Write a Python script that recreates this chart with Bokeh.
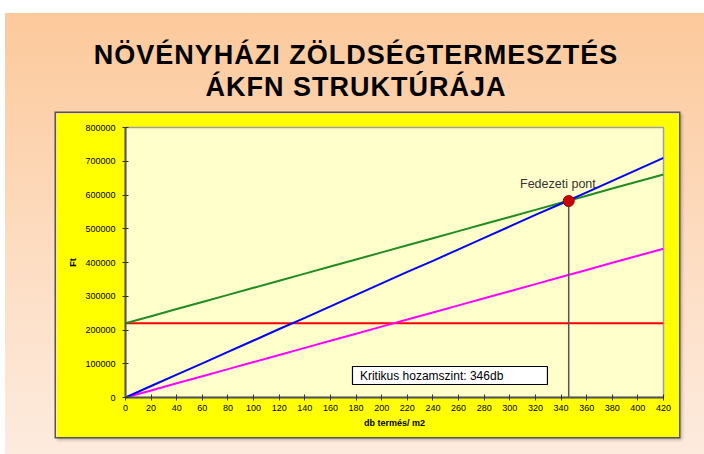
from bokeh.plotting import figure
from bokeh.layouts import column
from bokeh.models import BoxAnnotation, Label, FixedTicker, PrintfTickFormatter, Range1d, Div
from bokeh.embed import file_html
from bokeh.resources import INLINE

# ---- data ----
x_db = [0, 20, 40, 60, 80, 100, 120, 140, 160, 180, 200, 220, 240, 260, 280, 300, 320, 340, 360, 380, 400, 420]
bevetel = [0, 34000, 68000, 101000, 135000, 169000, 203000, 236000, 270000, 304000, 338000,
           372000, 405000, 439000, 473000, 507000, 541000, 574000, 608000, 642000, 676000, 710000]
osszkoltseg = [220000, 241000, 262000, 283000, 304000, 325000, 346000, 367000, 388000, 409000, 430000,
               451000, 472000, 493000, 514000, 535000, 556000, 577000, 598000, 619000, 640000, 661000]
valtozo_koltseg = [0, 21000, 42000, 63000, 84000, 105000, 126000, 147000, 168000, 189000, 210000,
                   231000, 252000, 273000, 294000, 315000, 336000, 357000, 378000, 399000, 420000, 441000]
fix_x = [0, 420]
fix_koltseg = [220000, 220000]
fedezeti_x = [346]
fedezeti_y = [582000]
x_ticks = [0, 20, 40, 60, 80, 100, 120, 140, 160, 180, 200, 220, 240, 260, 280, 300, 320, 340, 360, 380, 400, 420]
y_ticks = [0, 100000, 200000, 300000, 400000, 500000, 600000, 700000, 800000]
title_lines = ["NÖVÉNYHÁZI ZÖLDSÉGTERMESZTÉS", "ÁKFN STRUKTÚRÁJA"]

FONT = "Liberation Sans"

p = figure(width=623, height=324, x_range=Range1d(0, 420), y_range=Range1d(0, 800000),
           output_backend="svg", toolbar_location=None,
           min_border_left=69, min_border_right=16, min_border_top=14, min_border_bottom=40,
           margin=(0, 0, 17, 51))
p.styles = {"box-shadow": "0 0 0 1.5px #555555, 2px 2px 3px 1px rgba(0,0,0,0.25)"}
p.border_fill_color = "#FFFF00"
p.background_fill_color = "#FFFFCC"
p.outline_line_color = "#A0A0A0"
p.outline_line_width = 1.5
p.xgrid.visible = False
p.ygrid.visible = False

# axes
for ax in (p.xaxis[0], p.yaxis[0]):
    ax.axis_line_color = "#555555"
    ax.axis_line_width = 2
    ax.major_tick_line_color = "#333333"
    ax.major_tick_in = 3
    ax.major_tick_out = 3
    ax.minor_tick_line_color = None
    ax.major_label_text_font = FONT
    ax.major_label_text_font_size = "9px"
    ax.major_label_text_color = "#000000"
    ax.axis_label_text_font = FONT
    ax.axis_label_text_font_size = "9px"
    ax.axis_label_text_font_style = "bold"
    ax.axis_label_text_color = "#000000"

p.xaxis.ticker = FixedTicker(ticks=x_ticks)
p.yaxis.ticker = FixedTicker(ticks=y_ticks)
p.yaxis.formatter = PrintfTickFormatter(format="%d")
p.xaxis.axis_label = "db termés/ m2"
p.yaxis.axis_label = "Ft"
p.xaxis.major_label_standoff = 4
p.yaxis.major_label_standoff = 7
p.xaxis.axis_label_standoff = 4
p.yaxis.axis_label_standoff = 4

# series
p.line(fix_x, fix_koltseg, line_color="#FF0000", line_width=2)
p.line(x_db, osszkoltseg, line_color="#228B22", line_width=2)
p.line(x_db, valtozo_koltseg, line_color="#FF00FF", line_width=2)
p.line(x_db, bevetel, line_color="#0000FF", line_width=2)

# break-even point
p.segment(x0=fedezeti_x, y0=[0], x1=fedezeti_x, y1=fedezeti_y, line_color="#555555", line_width=1.5)
p.scatter(fedezeti_x, fedezeti_y, size=11, fill_color="#CC0000", line_color="#990000", line_width=1)

p.add_layout(Label(x=308, y=634000, text="Fedezeti pont", text_font=FONT, text_font_size="12.5px",
                   text_color="#333333", text_baseline="middle", text_align="left"))
p.add_layout(BoxAnnotation(left=177.2, right=329.4, top=91800, bottom=38500,
                           fill_color="white", fill_alpha=1, line_color="#000000", line_alpha=1,
                           line_width=1.2))
p.add_layout(Label(x=183, y=65000, text="Kritikus hozamszint: 346db", text_font=FONT,
                   text_font_size="12px", text_color="#000000", text_baseline="middle",
                   text_align="left"))

title = Div(text=('<div style="font-family:\'Liberation Sans\',Arial,sans-serif;font-weight:bold;'
                  'font-size:27px;letter-spacing:1px;line-height:32px;color:#000;text-align:center;'
                  'padding-top:26px;padding-left:3px;box-sizing:border-box;width:699px;">'
                  + title_lines[0] + "<br>" + title_lines[1] + "</div>"),
            width=699, height=100, margin=0)

layout = column(title, p, width=699, height=441, margin=(13, 0, 0, 5),
                styles={"background": "linear-gradient(180deg, #FCC99B 0%, #FDDDC2 55%, #FDEBDE 100%)"})

open("out.html", "w").write(file_html(layout, INLINE))
